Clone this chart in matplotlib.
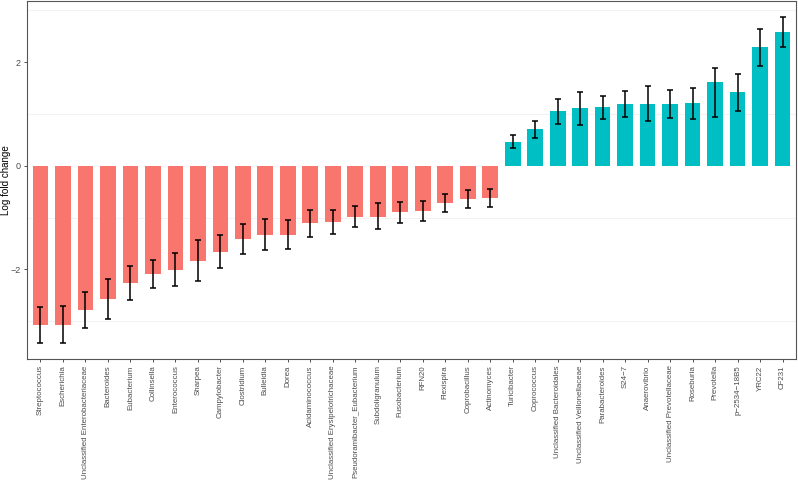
import numpy as np
import matplotlib
matplotlib.use("Agg")
import matplotlib.pyplot as plt
from matplotlib.ticker import FixedLocator

plt.rcParams['font.family'] = ['Liberation Sans', 'DejaVu Sans']

# genera, ordered by log fold change
genera = [
    "Streptococcus", "Escherichia", "Unclassified Enterobacteriaceae", "Bacteroides",
    "Eubacterium", "Collinsella", "Enterococcus", "Sharpea", "Campylobacter",
    "Clostridium", "Bulleidia", "Dorea", "Acidaminococcus",
    "Unclassified Erysipelotrichaceae", "Pseudoramibacter_Eubacterium", "Subdoligranulum",
    "Fusobacterium", "RFN20", "Flexispira", "Coprobacillus", "Actinomyces",
    "Turicibacter", "Coprococcus", "Unclassified Bacteroidales",
    "Unclassified Veillonellaceae", "Parabacteroides", "S24\u22127", "Anaerovibrio",
    "Unclassified Prevotellaceae", "Roseburia", "Prevotella", "p\u22122534\u221218B5",
    "YRC22", "CF231",
]
lfc = [-3.08, -3.07, -2.79, -2.57, -2.26, -2.08, -2.02, -1.84, -1.66, -1.42, -1.33,
       -1.33, -1.11, -1.09, -0.98, -0.98, -0.90, -0.87, -0.72, -0.64, -0.62,
       0.46, 0.70, 1.05, 1.11, 1.13, 1.19, 1.20, 1.20, 1.21, 1.62, 1.42, 2.29, 2.58]
err_low = [-3.42, -3.43, -3.14, -2.96, -2.59, -2.35, -2.33, -2.23, -1.98, -1.71, -1.63,
           -1.60, -1.37, -1.31, -1.19, -1.23, -1.10, -1.07, -0.90, -0.81, -0.79,
           0.34, 0.53, 0.81, 0.79, 0.90, 0.94, 0.86, 0.93, 0.91, 0.95, 1.06, 1.92, 2.30]
err_high = [-2.73, -2.71, -2.44, -2.18, -1.93, -1.81, -1.69, -1.44, -1.33, -1.13, -1.02,
            -1.04, -0.86, -0.86, -0.77, -0.72, -0.70, -0.68, -0.54, -0.46, -0.44,
            0.59, 0.87, 1.28, 1.43, 1.35, 1.44, 1.53, 1.47, 1.51, 1.89, 1.77, 2.64, 2.87]

x = np.arange(len(genera))
lfc = np.array(lfc)
colors = np.where(lfc < 0, "#F8766D", "#00BFC4")

fig = plt.figure(figsize=(7.98, 4.86), dpi=100)
ax = fig.add_axes([27 / 798, 1 - 359 / 486, 769 / 798, 358 / 486])

ax.bar(x, lfc, width=0.7, color=colors, zorder=2)
yerr = [lfc - np.array(err_low), np.array(err_high) - lfc]
ax.errorbar(x, lfc, yerr=yerr, fmt="none", ecolor="black", elinewidth=1.1,
            capsize=2.3, capthick=1.1, zorder=3)

ax.set_xlim(-0.6, len(genera) - 0.4)
ax.set_ylim(-3.73, 3.18)
ax.set_xticks(x)
ax.set_xticklabels(genera, rotation=90, fontsize=5.7, color="#4D4D4D")
ax.set_yticks([-2, 0, 2])
ax.set_yticklabels(["\u22122", "0", "2"], fontsize=6.5, color="#4D4D4D")
ax.yaxis.set_minor_locator(FixedLocator([-3, -1, 1, 3]))
ax.grid(which="minor", axis="y", color="#F0F0F0", linewidth=0.6, zorder=0)
ax.tick_params(axis="both", which="major", length=2.5, width=0.6, color="#333333", pad=2)
ax.tick_params(axis="y", which="minor", length=0)

# y label placed in figure pixels so it stays inside the left margin
fig.text(6 / 798, 1 - 180 / 486, "Log fold change", rotation=90, fontsize=7.1,
         ha="center", va="center")

for s in ax.spines.values():
    s.set_color("#555555")
    s.set_linewidth(0.8)

fig.savefig("out.png", dpi=100)
